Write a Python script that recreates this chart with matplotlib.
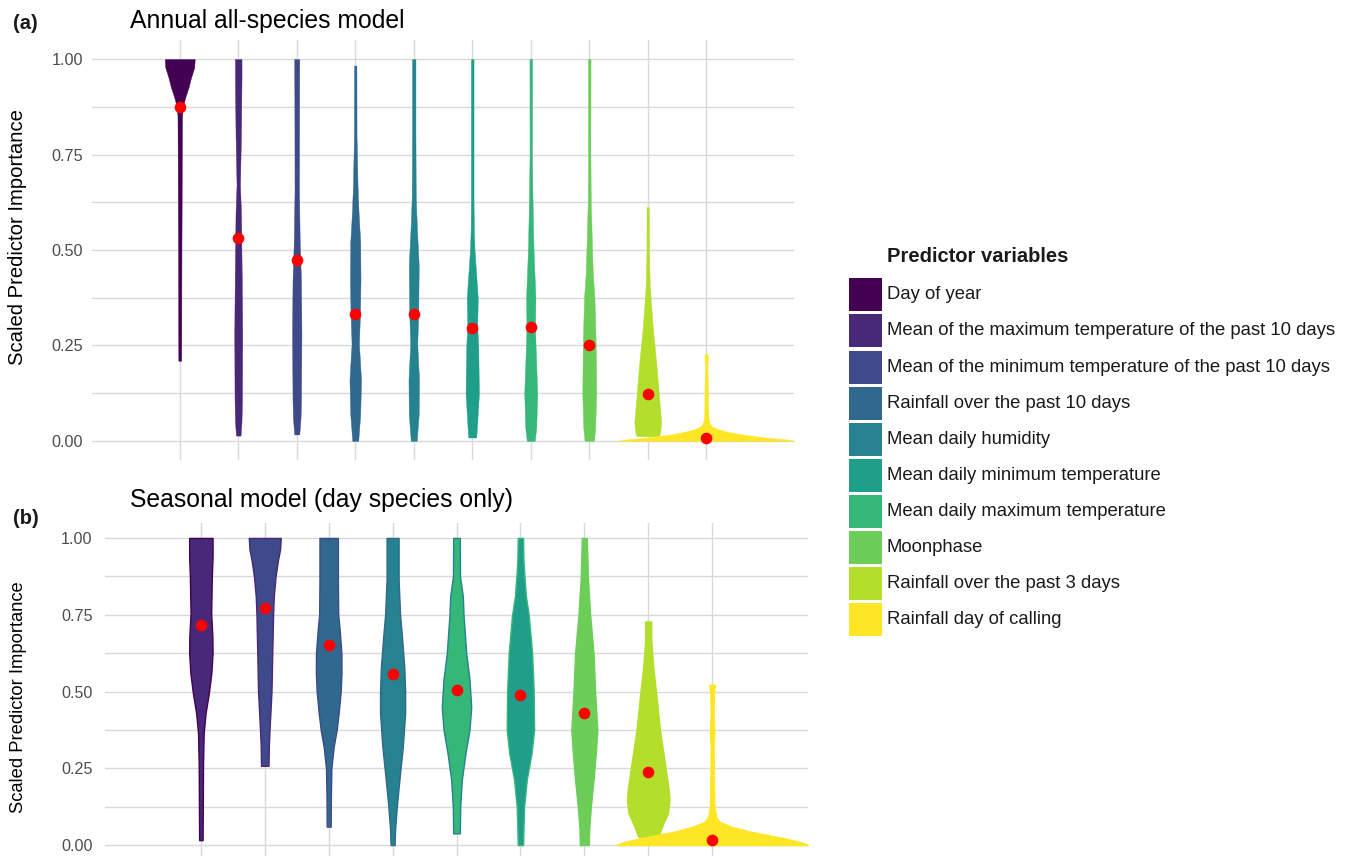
import numpy as np
import matplotlib
matplotlib.use("Agg")
import matplotlib.pyplot as plt
from matplotlib.patches import Rectangle

plt.rcParams['font.family'] = ['Liberation Sans', 'DejaVu Sans']

W, H = 1354, 856

predictors = [
    "Day of year",
    "Mean of the maximum temperature of the past 10 days",
    "Mean of the minimum temperature of the past 10 days",
    "Rainfall over the past 10 days",
    "Mean daily humidity",
    "Mean daily minimum temperature",
    "Mean daily maximum temperature",
    "Moonphase",
    "Rainfall over the past 3 days",
    "Rainfall day of calling",
]
colors = ["#440154", "#482878", "#3E4A89", "#31688E", "#26828E",
          "#1F9E89", "#35B779", "#6DCD59", "#B4DE2C", "#FDE725"]

# (a) annual model, violins in plotting order
annual_vars = predictors
annual_medians = [0.875, 0.531, 0.473, 0.333, 0.332, 0.297, 0.298, 0.250, 0.123, 0.008]
annual_levels = [
    [0.21, 0.3, 0.5, 0.7, 0.85, 0.875, 0.9, 0.926, 0.952, 0.978, 1.0],
    [0.014, 0.05, 0.104, 0.28, 0.42, 0.6, 0.67, 0.8, 0.95, 1.0],
    [0.017, 0.06, 0.104, 0.28, 0.42, 0.52, 0.655, 0.85, 1.0],
    [0.0, 0.07, 0.16, 0.255, 0.33, 0.42, 0.52, 0.6, 0.67, 0.8, 0.983],
    [0.0, 0.07, 0.16, 0.255, 0.33, 0.46, 0.55, 0.64, 0.8, 1.0],
    [0.009, 0.035, 0.125, 0.25, 0.3, 0.375, 0.5, 0.54, 0.625, 0.8, 1.0],
    [0.0, 0.035, 0.125, 0.25, 0.3, 0.375, 0.5, 0.625, 0.75, 1.0],
    [0.0, 0.035, 0.125, 0.25, 0.375, 0.44, 0.5, 0.625, 0.75, 1.0],
    [0.012, 0.02, 0.048, 0.125, 0.2, 0.29, 0.375, 0.41, 0.5, 0.612],
    [0.0, 0.004, 0.007, 0.012, 0.018, 0.025, 0.03, 0.037, 0.045, 0.06,
     0.1, 0.125, 0.16, 0.19, 0.205, 0.227],
]
annual_halfwidths = [
    [0.024, 0.026, 0.029, 0.034, 0.038, 0.051, 0.094, 0.150, 0.193, 0.247, 0.256],
    [0.039, 0.055, 0.063, 0.068, 0.060, 0.046, 0.029, 0.046, 0.056, 0.056],
    [0.043, 0.065, 0.072, 0.080, 0.072, 0.051, 0.038, 0.040, 0.043],
    [0.051, 0.085, 0.099, 0.063, 0.080, 0.090, 0.085, 0.056, 0.039, 0.022, 0.020],
    [0.051, 0.085, 0.090, 0.060, 0.077, 0.085, 0.056, 0.034, 0.029, 0.029],
    [0.068, 0.080, 0.114, 0.102, 0.085, 0.094, 0.039, 0.029, 0.022, 0.022, 0.022],
    [0.068, 0.094, 0.111, 0.082, 0.073, 0.080, 0.048, 0.031, 0.020, 0.022],
    [0.080, 0.102, 0.119, 0.111, 0.089, 0.060, 0.048, 0.026, 0.020, 0.022],
    [0.188, 0.210, 0.230, 0.188, 0.148, 0.090, 0.048, 0.034, 0.022, 0.020],
    [1.514, 1.365, 1.126, 0.853, 0.563, 0.341, 0.222, 0.102, 0.060, 0.038,
     0.031, 0.031, 0.026, 0.020, 0.026, 0.031],
]

# (b) seasonal model (day species only)
seasonal_vars = [
    "Mean of the maximum temperature of the past 10 days",
    "Mean of the minimum temperature of the past 10 days",
    "Rainfall over the past 10 days",
    "Mean daily humidity",
    "Mean daily maximum temperature",
    "Mean daily minimum temperature",
    "Moonphase",
    "Rainfall over the past 3 days",
    "Rainfall day of calling",
]
seasonal_medians = [0.715, 0.772, 0.651, 0.557, 0.505, 0.487, 0.429, 0.238, 0.018]
seasonal_levels = [
    [0.016, 0.05, 0.158, 0.266, 0.364, 0.43, 0.495, 0.56, 0.625, 0.68, 0.755, 0.875, 0.94, 1.0],
    [0.258, 0.32, 0.375, 0.5, 0.625, 0.75, 0.81, 0.875, 0.93, 0.962, 1.0],
    [0.06, 0.158, 0.25, 0.32, 0.375, 0.43, 0.5, 0.56, 0.625, 0.70, 0.75, 0.864, 1.0],
    [0.0, 0.05, 0.125, 0.212, 0.32, 0.43, 0.5, 0.58, 0.68, 0.75, 0.864, 1.0],
    [0.038, 0.125, 0.212, 0.3, 0.375, 0.45, 0.54, 0.625, 0.75, 0.81, 0.875, 1.0],
    [0.0, 0.05, 0.125, 0.212, 0.3, 0.375, 0.5, 0.625, 0.75, 0.81, 0.875, 0.93, 1.0],
    [0.0, 0.05, 0.125, 0.212, 0.3, 0.375, 0.5, 0.625, 0.75, 0.875, 1.0],
    [0.027, 0.07, 0.103, 0.147, 0.18, 0.266, 0.375, 0.484, 0.58, 0.668, 0.728],
    [0.0, 0.008, 0.022, 0.033, 0.043, 0.06, 0.075, 0.09, 0.125, 0.212,
     0.32, 0.364, 0.43, 0.495, 0.522],
]
seasonal_halfwidths = [
    [0.027, 0.028, 0.031, 0.034, 0.044, 0.074, 0.125, 0.164, 0.183, 0.180, 0.161, 0.172, 0.183, 0.183],
    [0.058, 0.063, 0.074, 0.105, 0.117, 0.130, 0.141, 0.169, 0.208, 0.239, 0.250],
    [0.031, 0.034, 0.042, 0.078, 0.125, 0.156, 0.188, 0.200, 0.199, 0.172, 0.149, 0.144, 0.144],
    [0.031, 0.039, 0.066, 0.106, 0.160, 0.196, 0.196, 0.183, 0.146, 0.117, 0.094, 0.094],
    [0.052, 0.058, 0.083, 0.141, 0.203, 0.230, 0.203, 0.152, 0.110, 0.099, 0.055, 0.052],
    [0.042, 0.047, 0.058, 0.099, 0.175, 0.214, 0.208, 0.183, 0.130, 0.086, 0.063, 0.047, 0.042],
    [0.070, 0.075, 0.102, 0.144, 0.180, 0.203, 0.169, 0.144, 0.091, 0.055, 0.039],
    [0.156, 0.235, 0.308, 0.333, 0.321, 0.261, 0.183, 0.130, 0.078, 0.047, 0.047],
    [1.502, 1.408, 1.127, 0.861, 0.610, 0.297, 0.125, 0.063, 0.034, 0.028,
     0.023, 0.034, 0.023, 0.028, 0.044],
]
seasonal_edges = ["#440154", "#482878", "#3E4A89", "#31688E", "#26828E",
                  "#35B779", "#6DCD59", "#B4DE2C", "#FDE725"]


def fx(x):
    return x / W


def fy(y):
    return 1 - y / H


def draw_panel(ax, names, levels, halfwidths, medians, edges, lw, tick_fs, pad):
    n = len(names)
    for i in range(n):
        xc = i + 1
        fill = colors[predictors.index(names[i])]
        lv = np.array(levels[i])
        hw = np.array(halfwidths[i])
        ax.fill_betweenx(lv, xc - hw, xc + hw, facecolor=fill,
                         edgecolor=edges[i] if edges else fill, lw=lw, zorder=2)
    ax.plot(np.arange(1, n + 1), medians, 'o', color='#FF0000', ms=8.4,
            mec='none', zorder=5, ls='none')

    ax.set_xlim(-0.5, n + 1.5)
    ax.set_ylim(-0.05, 1.05)
    ax.set_xticks(np.arange(1, n + 1))
    ax.set_xticklabels([])
    ax.set_yticks([0, 0.25, 0.5, 0.75, 1.0])
    ax.set_yticks([0.125, 0.375, 0.625, 0.875], minor=True)
    ax.set_yticklabels(["0.00", "0.25", "0.50", "0.75", "1.00"])
    ax.tick_params(axis='both', which='both', length=0)
    ax.tick_params(axis='y', labelsize=tick_fs, labelcolor='#4D4D4D', pad=pad)
    ax.grid(True, which='both', axis='y', color='#D9D9D9', lw=1.0)
    ax.grid(True, which='major', axis='x', color='#D9D9D9', lw=1.0)
    ax.set_axisbelow(True)
    for s in ax.spines.values():
        s.set_visible(False)


fig = plt.figure(figsize=(W / 100, H / 100), dpi=100)

ax1 = fig.add_axes([fx(92), fy(460), (794 - 92) / W, 420 / H])
draw_panel(ax1, annual_vars, annual_levels, annual_halfwidths, annual_medians,
           None, 0.3, 11.7, 6.5)

ax2 = fig.add_axes([fx(105), fy(860.4), (808 - 105) / W, (860.4 - 522.6) / H])
draw_panel(ax2, seasonal_vars, seasonal_levels, seasonal_halfwidths, seasonal_medians,
           seasonal_edges, 1.0, 11.6, 9)

# titles and panel tags
fig.text(fx(130), fy(28), "Annual all-species model", fontsize=17.8, va='baseline')
fig.text(fx(130), fy(507), "Seasonal model (day species only)", fontsize=17.8, va='baseline')
fig.text(fx(13), fy(29), "(a)", fontsize=14.5, fontweight='bold', va='baseline', color='#1A1A1A')
fig.text(fx(13), fy(524), "(b)", fontsize=14.5, fontweight='bold', va='baseline', color='#1A1A1A')

fig.text(fx(18), fy(237), "Scaled Predictor Importance", rotation=90,
         fontsize=14.6, ha='center', va='center')
fig.text(fx(19), fy(697), "Scaled Predictor Importance", rotation=90,
         fontsize=13.2, ha='center', va='center')

# legend
fig.text(fx(887), fy(262), "Predictor variables", fontsize=14.5, fontweight='bold',
         va='baseline', color='#1A1A1A')
for i, name in enumerate(predictors):
    top = 278.3 + 36.1 * i
    fig.add_artist(Rectangle((fx(849), fy(top + 33)), 33 / W, 33 / H,
                             transform=fig.transFigure, facecolor=colors[i],
                             edgecolor='none'))
    fig.text(fx(887), fy(top + 16.5), name, fontsize=13.3, va='center', color='#1A1A1A')

plt.savefig("out.png", dpi=100)
